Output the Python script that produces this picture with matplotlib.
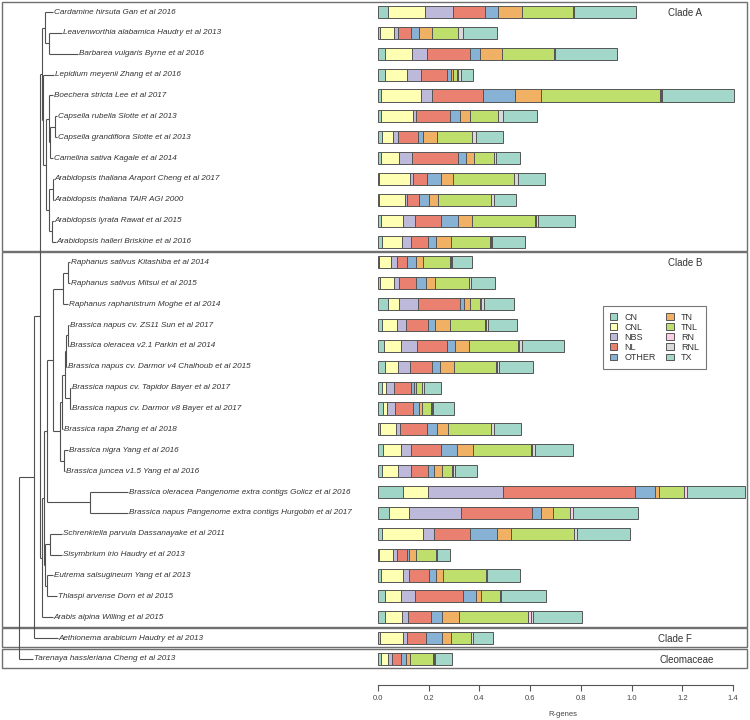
import matplotlib
matplotlib.use("Agg")
import matplotlib.pyplot as plt
from matplotlib.patches import Patch, Rectangle
import numpy as np

plt.rcParams['font.family'] = ['Liberation Sans', 'DejaVu Sans']

# ---------------- data ----------------
species = [
    "Cardamine hirsuta Gan et al 2016",
    "Leavenworthia alabamica Haudry et al 2013",
    "Barbarea vulgaris Byrne et al 2016",
    "Lepidium meyenii Zhang et al 2016",
    "Boechera stricta Lee et al 2017",
    "Capsella rubella Slotte et al 2013",
    "Capsella grandiflora Slotte et al 2013",
    "Camelina sativa Kagale et al 2014",
    "Arabidopsis thaliana Araport Cheng et al 2017",
    "Arabidopsis thaliana TAIR AGI 2000",
    "Arabidopsis lyrata Rawat et al 2015",
    "Arabidopsis halleri Briskine et al 2016",
    "Raphanus sativus Kitashiba et al 2014",
    "Raphanus sativus Mitsui et al 2015",
    "Raphanus raphanistrum Moghe et al 2014",
    "Brassica napus cv. ZS11 Sun et al 2017",
    "Brassica oleracea v2.1 Parkin et al 2014",
    "Brassica napus cv. Darmor v4 Chalhoub et al 2015",
    "Brassica napus cv. Tapidor Bayer et al 2017",
    "Brassica napus cv. Darmor v8 Bayer et al 2017",
    "Brassica rapa Zhang et al 2018",
    "Brassica nigra Yang et al 2016",
    "Brassica juncea v1.5 Yang et al 2016",
    "Brassica oleracea Pangenome extra contigs Golicz et al 2016",
    "Brassica napus Pangenome extra contigs Hurgobin et al 2017",
    "Schrenkiella parvula Dassanayake et al 2011",
    "Sisymbrium irio Haudry et al 2013",
    "Eutrema salsugineum Yang et al 2013",
    "Thlaspi arvense Dorn et al 2015",
    "Arabis alpina Willing et al 2015",
    "Aethionema arabicum Haudry et al 2013",
    "Tarenaya hassleriana Cheng et al 2013",
]

categories = ["CN", "CNL", "NBS", "NL", "OTHER", "TN", "TNL", "RN", "RNL", "TX"]

CN    = [.040,.007,.029,.029,.011,.011,.017,.011,.004,.004,.013,.017,.004,.007,.039,.017,.022,.026,.016,.020,.009,.020,.016,.099,.043,.017,.004,.013,.026,.026,.009,.011]
CNL   = [.145,.057,.105,.087,.160,.127,.042,.072,.121,.101,.085,.077,.049,.056,.043,.058,.070,.053,.015,.016,.063,.070,.063,.099,.078,.160,.055,.085,.063,.069,.089,.029]
NBS   = [.111,.013,.059,.052,.043,.013,.020,.051,.013,.009,.046,.037,.020,.020,.075,.034,.063,.046,.032,.033,.016,.039,.053,.293,.205,.042,.017,.026,.058,.022,.016,.017]
NL    = [.125,.055,.171,.105,.200,.131,.079,.181,.055,.046,.105,.068,.042,.065,.168,.088,.117,.088,.066,.069,.105,.121,.066,.522,.283,.145,.039,.079,.188,.091,.076,.035]
OTHER = [.053,.030,.039,.016,.125,.042,.020,.033,.054,.043,.066,.030,.034,.043,.013,.029,.033,.030,.013,.022,.039,.063,.024,.081,.035,.106,.007,.026,.050,.043,.063,.017]
TN    = [.092,.051,.087,.007,.105,.037,.053,.030,.049,.033,.057,.059,.029,.035,.026,.056,.054,.057,.008,.015,.043,.062,.029,.014,.046,.053,.026,.029,.020,.069,.033,.019]
TNL   = [.201,.103,.204,.017,.467,.113,.138,.079,.239,.208,.248,.155,.105,.131,.038,.138,.192,.164,.022,.035,.171,.230,.039,.099,.068,.250,.079,.166,.075,.272,.081,.089]
RN    = [0,0,0,.004,.003,0,0,0,.003,0,.003,.003,.003,.003,.004,.004,.004,.004,.003,.003,0,.004,.004,.012,.010,0,.003,0,.004,.010,0,.003]
RNL   = [.006,.020,.005,.010,.004,.018,.017,.009,.014,.013,.007,.004,.004,.008,.013,.009,.011,.009,.006,.004,.010,.009,.009,0,0,.012,.004,.007,0,.010,.007,.006]
TX    = [.244,.134,.243,.047,.286,.136,.105,.095,.105,.088,.148,.129,.081,.093,.116,.116,.168,.134,.066,.083,.108,.151,.089,.227,.258,.208,.049,.130,.180,.193,.079,.067]

colors = ["#9ed5c6", "#ffffb3", "#bdb9da", "#ea8070", "#87b1d5",
          "#f0b164", "#bfdf6c", "#fccde5", "#d9d9d9", "#a3d7c9"]

# tree: (children, node depth) or (leaf name, leaf depth)
tree = ([
    ([
        ([
            ([  # Clade A
                ([(species[0], 53), ([(species[1], 62), (species[2], 78)], 49)], 45),
                ([(species[3], 54),
                  ([([(species[4], 53),
                      ([([(species[5], 57), (species[6], 57)], 54.5), (species[7], 53)], 50)], 48.5),
                    ([([(species[8], 54), (species[9], 54)], 53),
                      ([(species[10], 54), (species[11], 56)], 52)], 49)], 46)], 43),
            ], 42),
            ([  # Clade B
                ([
                    ([
                        ([
                            ([([(species[12], 70), (species[13], 70)], 68), (species[14], 68)], 63),
                            ([
                                ([
                                    ([
                                        ([([(species[15], 69), (species[16], 69)], 68), (species[17], 67)], 66),
                                        ([(species[18], 71), (species[19], 71)], 70),
                                    ], 65),
                                    (species[20], 63),
                                ], 62),
                                ([(species[21], 68), (species[22], 65)], 64),
                            ], 60),
                        ], 53),
                        ([(species[23], 128), (species[24], 128)], 90),
                    ], 47),
                    ([
                        ([(species[25], 62), (species[26], 62)], 50),
                        ([(species[27], 53), (species[28], 57)], 47),
                    ], 45),
                ], 44),
                (species[29], 53),
            ], 42),
        ], 40),
        (species[30], 58),
    ], 34),
    (species[31], 33),
], 19)

clades = [(0, 11, "Clade A"), (12, 29, "Clade B"), (30, 30, "Clade F"), (31, 31, "Cleomaceae")]
clade_label_x = [668, 668, 658, 660]

# ---------------- figure ----------------
W, H = 750, 720
fig = plt.figure(figsize=(W / 100, H / 100), dpi=100)

row0_px, row_px = 12.0, 20.87
def px2row(p):
    return (p - row0_px) / row_px

# overlay axes (tree, boxes) : x in pixels, y in rows
ov = fig.add_axes([0, 0, 1, 1])
ov.set_xlim(0, W)
ov.set_ylim(px2row(H), px2row(0))
ov.axis("off")

row_of = {s: i for i, s in enumerate(species)}
lc = "#505050"
lw = 0.8

def layout(node):
    label, x = node
    if isinstance(label, str):
        y = row_of[label]
        ov.text(x + 0.8, y, label, fontsize=5.9, style="italic", color="#333333",
                va="center", ha="left")
        return x, y
    pts = [layout(ch) for ch in label]
    ys = [p[1] for p in pts]
    y = (ys[0] + ys[-1]) / 2.0
    ov.plot([x, x], [min(ys), max(ys)], color=lc, lw=lw, solid_capstyle="butt")
    for cx, cy in pts:
        ov.plot([x, cx], [cy, cy], color=lc, lw=lw, solid_capstyle="butt")
    return x, y

layout(tree)

for (r0, r1, name), lx in zip(clades, clade_label_x):
    top = r0 - 0.48
    bot = r1 + 0.45
    ov.add_patch(Rectangle((2, top), 745, bot - top, fill=False, edgecolor="#707070", lw=1.0))
    ov.text(lx, r0 + 0.05, name, fontsize=7, color="#333333", va="center", ha="left")

# bar axes
left_px, right_px, bottom_px = 378, 748, 685
ax = fig.add_axes([left_px / W, 1 - bottom_px / H, (right_px - left_px) / W, bottom_px / H])
ax.patch.set_alpha(0)
ax.set_xlim(0, (right_px - left_px) / 253.6)
ax.set_ylim(px2row(bottom_px), px2row(0))

series = [CN, CNL, NBS, NL, OTHER, TN, TNL, RN, RNL, TX]
ypos = np.arange(len(species))
left = np.zeros(len(species))
for vals, col in zip(series, colors):
    v = np.array(vals)
    ax.barh(ypos, v, left=left, height=0.58, color=col, edgecolor="#555555", linewidth=0.7)
    left += v

for s in ["top", "right", "left"]:
    ax.spines[s].set_visible(False)
ax.spines["bottom"].set_bounds(0, 1.4)
ax.spines["bottom"].set_color("#555555")
ax.spines["bottom"].set_linewidth(0.8)
ticks = [0.0, 0.2, 0.4, 0.6, 0.8, 1.0, 1.2, 1.4]
ax.set_xticks(ticks)
ax.set_xticklabels([f"{t:.1f}" for t in ticks])
ax.tick_params(axis="x", length=4, width=0.8, color="#555555", labelsize=5.5,
               labelcolor="#444444", pad=3)
ax.set_yticks([])
ax.set_xlabel("R-genes", fontsize=5.5, color="#444444", labelpad=7)

handles = [Patch(facecolor=c, edgecolor="#555555", linewidth=0.7) for c in colors]
leg = ax.legend(handles, categories, ncol=2, fontsize=6.5,
                loc="upper left", bbox_to_anchor=(603 / W, 1 - 306 / H),
                bbox_transform=fig.transFigure, frameon=True, fancybox=False,
                edgecolor="#555555", handlelength=0.8, handleheight=0.8,
                labelspacing=0.12, columnspacing=1.2, handletextpad=0.8,
                borderpad=0.75, borderaxespad=0)
leg.get_frame().set_linewidth(0.8)
for t in leg.get_texts():
    t.set_color("#333333")

fig.savefig("out.png", dpi=100)
